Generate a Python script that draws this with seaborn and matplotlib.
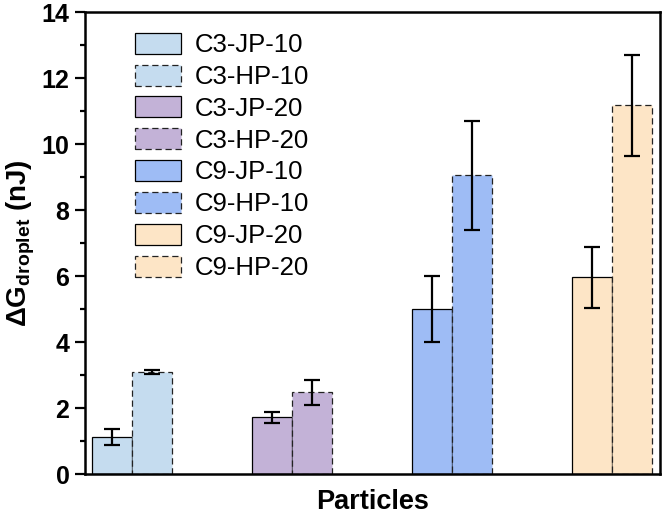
import matplotlib
matplotlib.use("Agg")
import matplotlib.pyplot as plt
import seaborn as sns
import pandas as pd
from matplotlib.patches import Patch

# ---- data ----
categories = ["C3-10", "C3-20", "C9-10", "C9-20"]
jp_values = [1.13, 1.72, 4.99, 5.96]
jp_errors = [0.24, 0.16, 1.00, 0.93]
hp_values = [3.09, 2.47, 9.05, 11.17]
hp_errors = [0.06, 0.39, 1.66, 1.52]
legend_labels = ["C3-JP-10", "C3-HP-10", "C3-JP-20", "C3-HP-20",
                 "C9-JP-10", "C9-HP-10", "C9-JP-20", "C9-HP-20"]
colors = ["#c5dcef", "#c3b2d7", "#9ebcf5", "#fde5c6"]
y_ticks = [0, 2, 4, 6, 8, 10, 12, 14]

df = pd.DataFrame({
    "cat": categories * 2,
    "type": ["JP"] * 4 + ["HP"] * 4,
    "val": jp_values + hp_values,
    "err": jp_errors + hp_errors,
})

sns.set_theme(style="ticks")
plt.rcParams["font.family"] = ["Liberation Sans", "DejaVu Sans"]
plt.rcParams["text.color"] = "black"
plt.rcParams["axes.labelcolor"] = "black"
plt.rcParams["xtick.color"] = "black"
plt.rcParams["ytick.color"] = "black"
plt.rcParams["mathtext.fontset"] = "custom"
plt.rcParams["mathtext.rm"] = "Liberation Sans"
plt.rcParams["mathtext.bf"] = "Liberation Sans:bold"

fig = plt.figure(figsize=(6.62, 5.16), dpi=100)
ax = fig.add_axes([85 / 662, (516 - 474) / 516, 575 / 662, 462 / 516])

sns.barplot(data=df, x="cat", y="val", hue="type", order=categories,
            hue_order=["JP", "HP"], width=0.5, gap=0, errorbar=None,
            legend=False, ax=ax)

# style bars and add error bars
for ci, (cont, vals, errs) in enumerate(zip(ax.containers,
                                            [jp_values, hp_values],
                                            [jp_errors, hp_errors])):
    xs = []
    for i, bar in enumerate(cont):
        bar.set_facecolor(colors[i])
        if ci == 0:
            bar.set_edgecolor("black")
            bar.set_linewidth(0.9)
            bar.set_linestyle("-")
        else:
            bar.set_edgecolor("#222222")
            bar.set_linewidth(0.9)
            bar.set_linestyle((0, (5, 3)))
        xs.append(bar.get_x() + bar.get_width() / 2)
    ax.errorbar(xs, vals, yerr=errs, fmt="none", ecolor="black",
                elinewidth=1.6, capsize=6, capthick=1.6, zorder=5)

ax.set_xlim(-0.295, 3.3)
ax.set_ylim(0, 14)
ax.set_yticks(y_ticks)
ax.set_yticks([1, 3, 5, 7, 9, 11, 13], minor=True)
ax.set_xticks([])
for lab in ax.get_yticklabels():
    lab.set_fontweight("bold")
ax.tick_params(axis="y", which="major", labelsize=18, width=1.6, length=7.2,
               direction="out", pad=4)
ax.tick_params(axis="y", which="minor", width=1.6, length=3.6, direction="out")
for sp in ax.spines.values():
    sp.set_visible(True)
    sp.set_linewidth(1.8)
    sp.set_color("black")

ax.set_xlabel("Particles", fontsize=19.5, fontweight="bold", labelpad=11)
ax.set_ylabel(r"$\mathbf{\Delta G_{droplet}}$ (nJ)", fontsize=20,
              fontweight="bold", labelpad=3)

# legend
handles = []
for i in range(4):
    handles.append(Patch(facecolor=colors[i], edgecolor="black",
                         linewidth=0.9, linestyle="-"))
    handles.append(Patch(facecolor=colors[i], edgecolor="#222222",
                         linewidth=0.9, linestyle=(0, (5, 3))))
ax.legend(handles, legend_labels, loc="upper left",
          bbox_to_anchor=(0.087, 0.955), frameon=False, fontsize=18.5,
          handlelength=1.79, handleheight=0.88, handletextpad=0.545,
          labelspacing=0.29, borderpad=0, borderaxespad=0)

fig.savefig("out.png", dpi=100)
